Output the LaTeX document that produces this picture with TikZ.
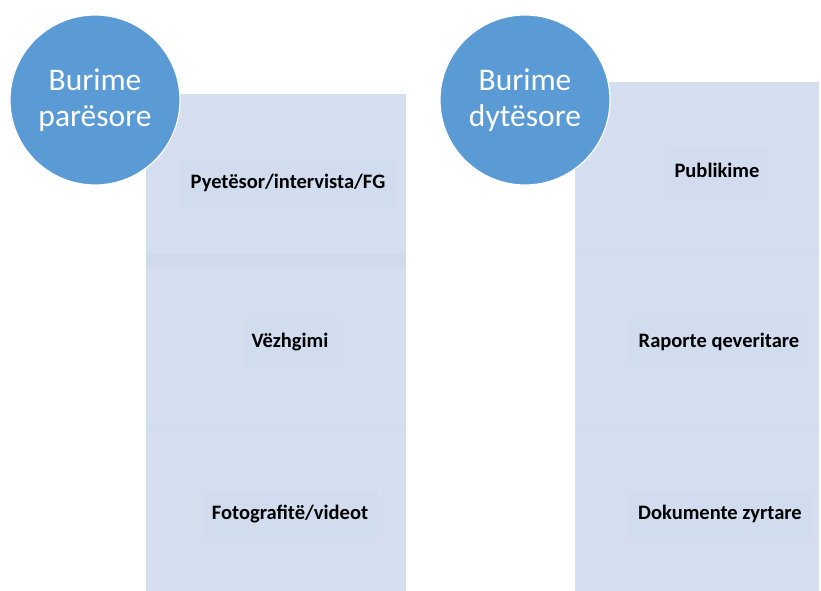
\documentclass[tikz,border=0pt]{standalone}
\usepackage{fontspec}
\setmainfont{Carlito}
\definecolor{circblue}{HTML}{5B9BD5}
\definecolor{colfill}{HTML}{D4DEEF}
\definecolor{bandfill}{HTML}{CFDAEB}
\definecolor{itemfill}{HTML}{D1DCEE}
\begin{document}
\begin{tikzpicture}[x=1pt, y=-1pt]
        \tikzstyle{source} = [circle, fill=circblue, draw=white, line width=1.2pt, minimum size=170pt, inner sep=0pt, text=white, align=center, font=\fontsize{31.5}{36}\selectfont]
        \tikzstyle{item} = [fill=itemfill, inner xsep=9pt, minimum height=47pt, font=\fontsize{20.5}{25}\selectfont\bfseries]

		\useasboundingbox (0,0) rectangle (821,591);

		% columns
		\draw[fill=colfill, draw=none] (146,94) rectangle (406,591);
		\draw[fill=colfill, draw=none] (575,82) rectangle (819,591);
		\draw[fill=bandfill, draw=none] (146,254) rectangle (406,268);
		\draw[bandfill, line width=0.8pt] (146,425) -- (406,425);
		\draw[bandfill, line width=0.8pt] (575,254) -- (819,254);
		\draw[bandfill, line width=0.8pt] (575,425) -- (819,425);

		% items
		\node[item] (pyet) at (288,183) {Pyetësor/intervista/FG};
		\node[item] (vezh) at (290,342) {Vëzhgimi};
		\node[item] (foto) at (290,514) {Fotografitë/videot};
		\node[item] (publ) at (717,170) {Publikime};
		\node[item] (rapo) at (719,342) {Raporte qeveritare};
		\node[item] (doku) at (720,514) {Dokumente zyrtare};

		% circles
		\node[source] (prim) at (95,100) {Burime\\parësore};
		\node[source] (dyte) at (525,100) {Burime\\dytësore};

    \end{tikzpicture}
\end{document}
